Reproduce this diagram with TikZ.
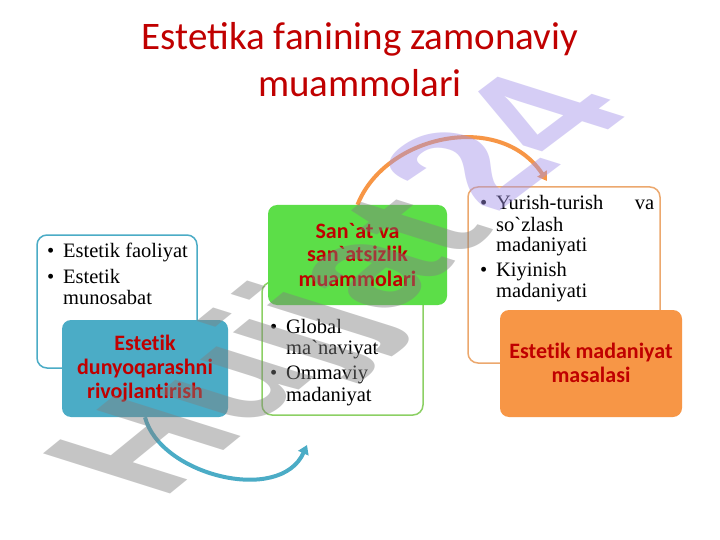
\documentclass[tikz,border=0pt]{standalone}
\usepackage{fontspec}
\setmainfont{Liberation Serif}
\newfontfamily\calfont{Carlito}
\newfontfamily\callabel{Carlito}[Ligatures=NoCommon]
\newfontfamily\wmfont{Liberation Sans}
\usetikzlibrary{arrows.meta}
\definecolor{titlered}{RGB}{192,0,0}
\definecolor{tealf}{RGB}{75,172,198}
\definecolor{greenf}{RGB}{92,222,72}
\definecolor{greenl}{RGB}{140,208,100}
\definecolor{orangef}{RGB}{247,150,70}
\definecolor{orangel}{RGB}{236,168,110}
\definecolor{wmgray}{RGB}{128,128,128}
\definecolor{wmlav}{RGB}{162,146,233}
\newcommand\bul{\makebox[16pt][l]{\textbullet}}
\newcommand\ind{\hspace*{16pt}}
\begin{document}
\begin{tikzpicture}[x=1pt,y=-1pt,
  outline/.style={draw=#1, line width=1.5pt, fill=white, rounded corners=10pt, inner sep=0pt},
  filled/.style={fill=#1, rounded corners=9pt, inner sep=0pt},
  listtext/.style={inner sep=0pt, anchor=base west, font=\fontsize{20.5}{21.5}\selectfont},
  labeltext/.style={inner sep=0pt, anchor=base, text=titlered, font=\callabel\bfseries\fontsize{22}{24}\selectfont},
  curvearrow/.style={line width=4pt, draw=#1, -{Triangle[length=9pt,width=11pt]}},
  wmtext/.style={transform shape, inner sep=0pt, anchor=base, text opacity=0.45, font=\wmfont\bfseries\fontsize{100}{100}\selectfont}]
\useasboundingbox (0,0) rectangle (720,540);
\fill[white] (0,0) rectangle (720,540);

% title
\node[inner sep=0pt, anchor=base, text=titlered, font=\calfont\fontsize{39}{47}\selectfont] (title) at (360,50)
  {\parbox[t]{650pt}{\centering Estetika fanining zamonaviy\\muammolari}};

% group 1
\node[outline=tealf, minimum width=160pt, minimum height=133pt] (b1) at (117,301.5) {};
\node[listtext] (t1) at (47,258) {\parbox[t]{150pt}{\bul Estetik faoliyat\\[3.5pt]\bul Estetik\\\ind munosabat}};
\node[filled=tealf, minimum width=166pt, minimum height=97pt] (teal) at (145,368.5) {};
\node[labeltext] (l1) at (145,350) {\parbox[t]{166pt}{\centering Estetik\\dunyoqarashni\\rivojlantirish}};

% group 2
\node[outline=greenl, minimum width=161pt, minimum height=133pt] (b2) at (342.5,348.5) {};
\node[filled=greenf, minimum width=179pt, minimum height=100pt] (green) at (357.5,255) {};
\node[labeltext] (l2) at (357.5,238) {\parbox[t]{179pt}{\centering San\textasciigrave at va\\san\textasciigrave atsizlik\\muammolari}};
\node[listtext] (t2) at (270,333) {\parbox[t]{150pt}{\bul Global\\\ind ma\textasciigrave naviyat\\[3.5pt]\bul Ommaviy\\\ind madaniyat}};

% group 3
\node[outline=orangel, minimum width=192pt, minimum height=176pt] (b3) at (564,275) {};
\node[listtext, font=\fontsize{20.5}{21}\selectfont] (t3) at (480,210) {\parbox[t]{180pt}{\bul\makebox[158pt][l]{Yurish-turish\hfill va}\\\ind so\textasciigrave zlash\\\ind madaniyati\\[4pt]\bul Kiyinish\\\ind madaniyati}};
\node[filled=orangef, minimum width=182pt, minimum height=107pt] (orange) at (591,363.5) {};
\node[labeltext] (l3) at (591,358) {\parbox[t]{182pt}{\centering Estetik madaniyat\\masalasi}};

% arrows
\coordinate (e1) at (307,445);
\coordinate (e2) at (547,181);
\draw[curvearrow=tealf] (teal.south) .. controls (160,475) and (280,505) .. (e1);
\draw[curvearrow=orangef] (green.north) .. controls (385,135) and (500,110) .. (e2);

% watermark
\begin{scope}[shift={(263,344)}]
\begin{scope}[cm={1.2,0.978,-1.847,0.583,(0,0)}]
\node[wmtext, text=wmgray] (wm1) at (0pt,-36pt) {Hujjat};
\end{scope}
\end{scope}
\begin{scope}[shift={(500,140)}]
\begin{scope}[cm={1.278,0.964,-1.847,0.583,(0,0)}]
\node[wmtext, text=wmlav] (wm2) at (0pt,-36pt) {24};
\end{scope}
\end{scope}
\end{tikzpicture}
\end{document}
